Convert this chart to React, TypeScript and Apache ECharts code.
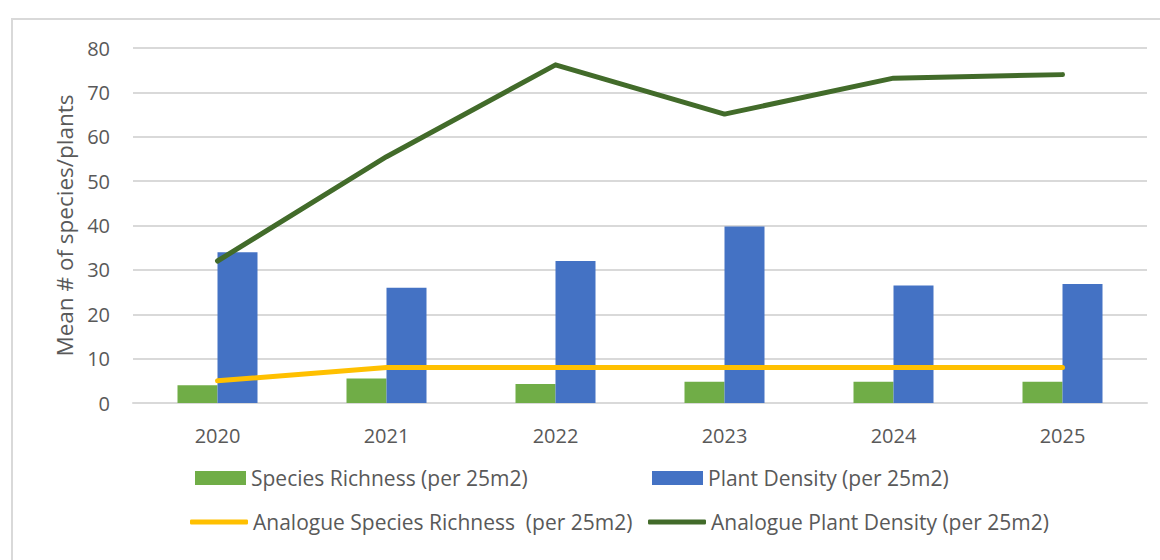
import React, { useEffect, useRef } from "react";
import * as echarts from "echarts";

const years = ["2020", "2021", "2022", "2023", "2024", "2025"];
const speciesRichness = [4, 5.5, 4.3, 4.8, 4.8, 4.8];
const plantDensity = [34, 26, 32, 39.8, 26.5, 26.8];
const analogueSpeciesRichness = [5, 8, 8, 8, 8, 8];
const analoguePlantDensity = [32, 55.5, 76.2, 65.1, 73.2, 74];

const NAMES = [
  "Species Richness (per 25m2)",
  "Plant Density (per 25m2)",
  "Analogue Species Richness  (per 25m2)",
  "Analogue Plant Density (per 25m2)",
];

const COLORS = ["#70ad47", "#4472c4", "#ffc000", "#426b2a"];

export default function App() {
  const ref = useRef<HTMLDivElement>(null);
  useEffect(() => {
    if (!ref.current) return;
    const chart = echarts.init(ref.current, null, { renderer: "svg" });
    const legendText = {
      fontFamily: "'Open Sans', sans-serif",
      fontSize: 21,
      color: "#595959",
      lineHeight: 24,
    };
    const mkLegend = (name: string, left: number, top: number, isLine: boolean) => ({
      data: [name],
      left,
      top,
      padding: 0,
      orient: "horizontal",
      itemWidth: isLine ? 58 : 51,
      itemHeight: isLine ? 5 : 14,
      icon: isLine ? "roundRect" : "rect",
      textStyle: legendText,
      selectedMode: false,
    });
    chart.setOption({
      animation: false,
      backgroundColor: "#ffffff",
      graphic: [
        {
          type: "rect",
          shape: { x: 12, y: 19, width: 1160, height: 560 },
          style: { fill: "none", stroke: "#d9d9d9", lineWidth: 2 },
          silent: true,
        },
      ],
      grid: { left: 133, right: 13, top: 48, bottom: 157, containLabel: false },
      legend: [
        mkLegend(NAMES[0], 195, 466, false),
        mkLegend(NAMES[1], 652, 466, false),
        mkLegend(NAMES[2], 190, 510, true),
        mkLegend(NAMES[3], 648, 510, true),
      ],
      xAxis: {
        type: "category",
        data: years,
        axisLine: { show: true, lineStyle: { color: "#d9d9d9", width: 2 } },
        axisTick: { show: false },
        axisLabel: {
          color: "#595959",
          fontSize: 20,
          fontFamily: "'Open Sans', sans-serif",
          margin: 22,
        },
      },
      yAxis: {
        type: "value",
        min: 0,
        max: 80,
        interval: 10,
        name: "Mean # of species/plants",
        nameLocation: "middle",
        nameGap: 56,
        nameTextStyle: {
          color: "#595959",
          fontSize: 22.5,
          fontFamily: "'Open Sans', sans-serif",
        },
        axisLine: { show: false },
        axisTick: { show: false },
        axisLabel: {
          color: "#595959",
          fontSize: 20,
          fontFamily: "'Open Sans', sans-serif",
          margin: 23,
        },
        splitLine: { lineStyle: { color: "#d9d9d9", width: 2 } },
      },
      series: [
        {
          name: NAMES[0],
          type: "bar",
          data: speciesRichness,
          barWidth: 40,
          barGap: "0%",
          itemStyle: { color: COLORS[0] },
        },
        {
          name: NAMES[1],
          type: "bar",
          data: plantDensity,
          barWidth: 40,
          barGap: "0%",
          itemStyle: { color: COLORS[1] },
        },
        {
          name: NAMES[2],
          type: "line",
          data: analogueSpeciesRichness,
          symbol: "none",
          color: COLORS[2],
          lineStyle: { color: COLORS[2], width: 5, cap: "round", join: "round" },
          itemStyle: { color: COLORS[2] },
          z: 5,
        },
        {
          name: NAMES[3],
          type: "line",
          data: analoguePlantDensity,
          symbol: "none",
          color: COLORS[3],
          lineStyle: { color: COLORS[3], width: 5, cap: "round", join: "round" },
          itemStyle: { color: COLORS[3] },
          z: 5,
        },
      ],
    });
    return () => chart.dispose();
  }, []);
  return (
    <div
      ref={ref}
      style={{ position: "fixed", left: 0, top: 0, width: 1160, height: 560, background: "#fff" }}
    />
  );
}
